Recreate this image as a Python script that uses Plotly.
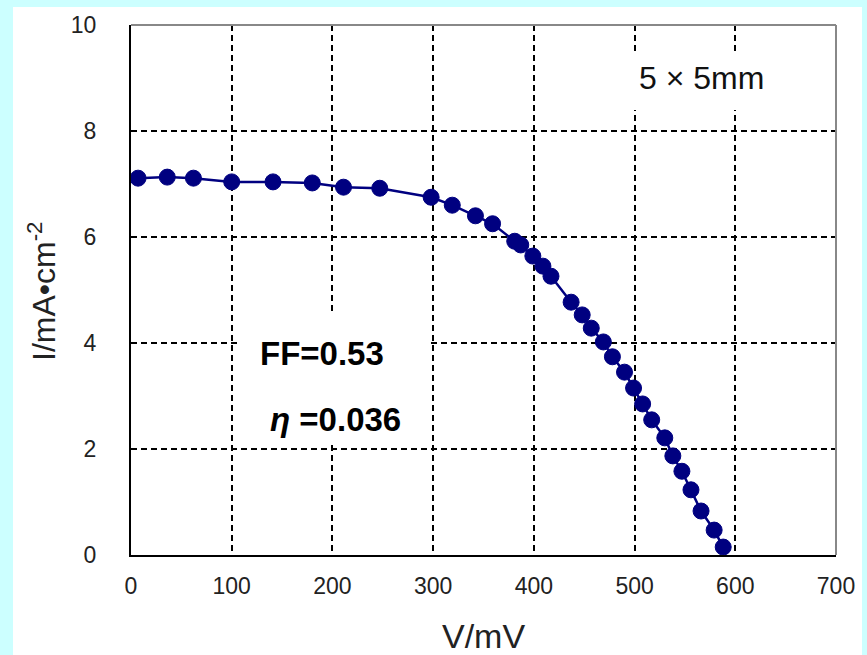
import plotly.graph_objects as go

voltage_mV = [7, 36, 62, 100, 141, 180, 211, 247, 298, 319, 342, 359, 381, 387,
              399, 409, 417, 437, 448, 457, 469, 478, 490, 499, 508, 517, 530,
              538, 547, 556, 566, 579, 588]
current_mA_cm2 = [7.11, 7.13, 7.11, 7.04, 7.04, 7.02, 6.94, 6.92, 6.75, 6.60, 6.40,
                  6.25, 5.92, 5.85, 5.64, 5.45, 5.26, 4.77, 4.53, 4.28, 4.02, 3.74,
                  3.45, 3.15, 2.85, 2.55, 2.21, 1.87, 1.58, 1.23, 0.83, 0.47, 0.15]
x_ticks = [0, 100, 200, 300, 400, 500, 600, 700]
y_ticks = [0, 2, 4, 6, 8, 10]

W, H = 867, 655
L, R, T, B = 131, 31, 25, 100
pw, ph = W - L - R, H - T - B

def px(xp):
    return (xp - L) / pw

def py(yp):
    return (H - B - yp) / ph

NAVY = "#000080"
FONT = "Liberation Sans, Arial, sans-serif"
tick_font = dict(family=FONT, size=23, color="#222")

fig = go.Figure()
fig.add_trace(go.Scatter(
    x=voltage_mV, y=current_mA_cm2, mode="lines+markers",
    line=dict(color=NAVY, width=2.5),
    marker=dict(color=NAVY, size=16, symbol="circle",
                line=dict(color=NAVY, width=1)),
    showlegend=False, cliponaxis=False,
))

fig.update_layout(
    width=W, height=H,
    margin=dict(l=L, r=R, t=T, b=B, autoexpand=False),
    paper_bgcolor="#CCFFFF",
    plot_bgcolor="white",
    xaxis=dict(range=[0, 700], tickvals=x_ticks, showgrid=True,
               gridcolor="black", griddash="6px,4px", gridwidth=1.5,
               showline=True, linecolor="black", linewidth=2,
               zeroline=False, ticks="outside", ticklen=9,
               tickcolor="rgba(0,0,0,0)", tickfont=tick_font),
    yaxis=dict(range=[0, 10], tickvals=y_ticks, showgrid=True,
               gridcolor="black", griddash="6px,4px", gridwidth=1.5,
               showline=True, linecolor="black", linewidth=2,
               zeroline=False, ticks="outside", ticklen=28,
               tickcolor="rgba(0,0,0,0)", tickfont=tick_font),
    shapes=[
        dict(type="rect", xref="paper", yref="paper", layer="below",
             x0=px(13), x1=px(862), y0=py(H + 5), y1=py(7),
             fillcolor="white", line=dict(width=0)),
        dict(type="line", xref="paper", yref="paper", layer="above",
             x0=0, x1=1, y0=1, y1=1, line=dict(color="#888", width=2)),
        dict(type="line", xref="paper", yref="paper", layer="above",
             x0=1, x1=1, y0=0, y1=1, line=dict(color="#888", width=2)),
        # white boxes behind the text labels
        dict(type="rect", xref="paper", yref="paper", layer="above",
             x0=px(237), x1=px(428), y0=py(445), y1=py(315),
             fillcolor="white", line=dict(width=0)),
        dict(type="rect", xref="paper", yref="paper", layer="above",
             x0=px(628), x1=px(790), y0=py(110), y1=py(52),
             fillcolor="white", line=dict(width=0)),
    ],
    annotations=[
        dict(text="FF=0.53", xref="paper", yref="paper", x=px(258), y=py(353),
             xanchor="left", yanchor="middle", showarrow=False,
             font=dict(family=FONT, size=33, color="black", weight="bold")),
        dict(text="<i>η</i> =0.036", xref="paper", yref="paper", x=px(268), y=py(419),
             xanchor="left", yanchor="middle", showarrow=False,
             font=dict(family=FONT, size=33, color="black", weight="bold")),
        dict(text="5 × 5mm", xref="paper", yref="paper", x=px(637), y=py(78),
             xanchor="left", yanchor="middle", showarrow=False,
             font=dict(family=FONT, size=32, color="#111")),
        dict(text="V/mV", xref="paper", yref="paper", x=px(484), y=py(636),
             xanchor="center", yanchor="middle", showarrow=False,
             font=dict(family=FONT, size=34, color="#222")),
        dict(text="I/mA•cm<sup>-2</sup>", xref="paper", yref="paper",
             x=px(42), y=py(291), textangle=-90,
             xanchor="center", yanchor="middle", showarrow=False,
             font=dict(family=FONT, size=32, color="#222")),
    ],
)

fig.write_html("out.html",
               config={"displayModeBar": False},
               post_script="document.body.style.margin='0px';"
                           "document.body.style.background='#CCFFFF';")
